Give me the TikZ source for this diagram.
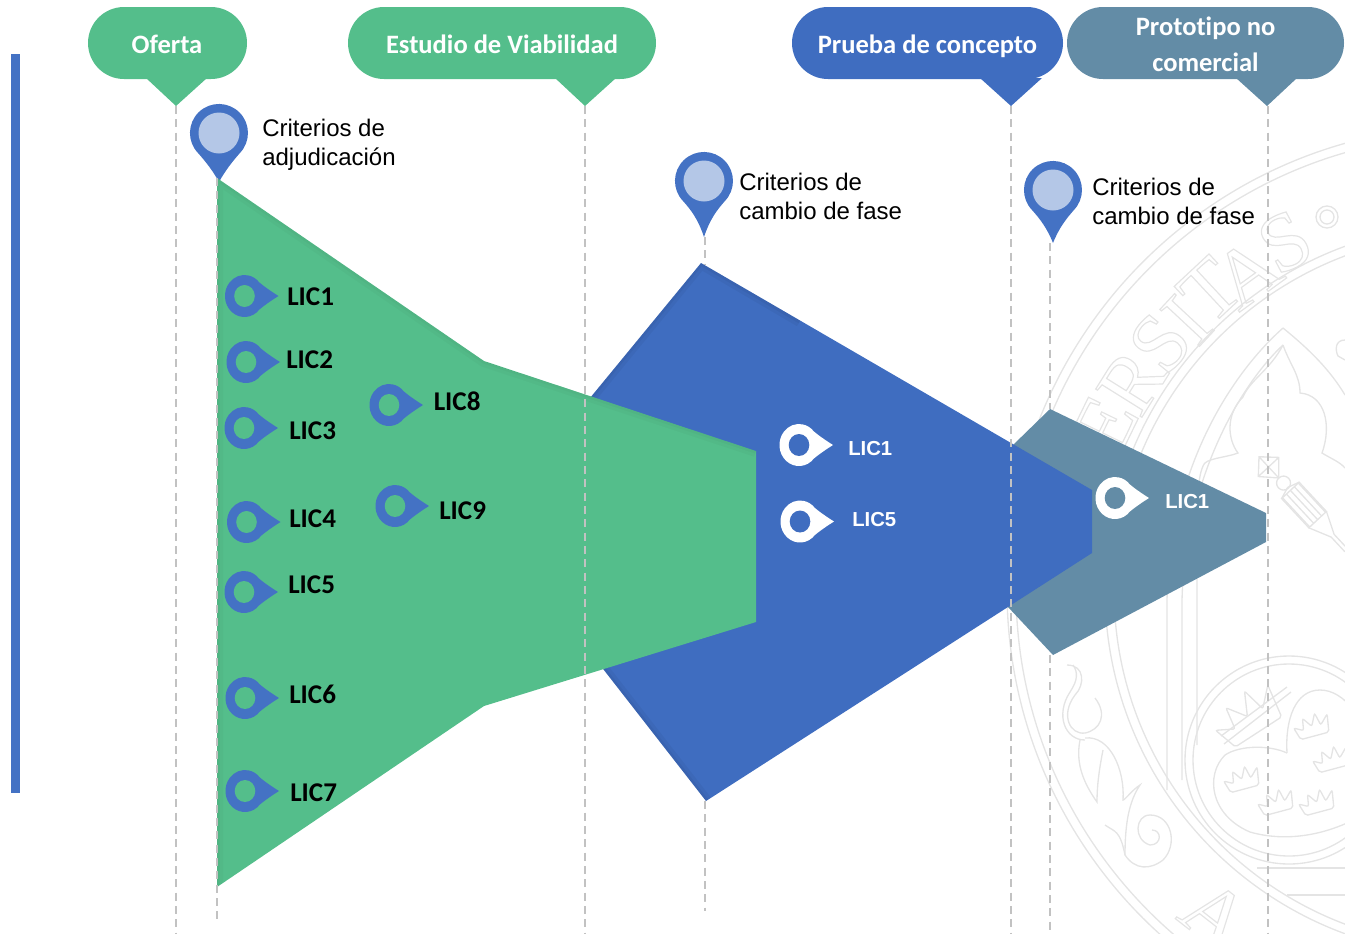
\documentclass[tikz,border=0pt]{standalone}
\usepackage{fontspec}
\setmainfont{Liberation Sans}
\newfontfamily\calfont[Ligatures=NoCommon]{Carlito}
\newfontfamily\serifseal{Liberation Serif}
\definecolor{greenc}{HTML}{54BE8B}
\definecolor{bluec}{HTML}{3F6DC0}
\definecolor{pinb}{HTML}{4472C4}
\definecolor{pinl}{HTML}{B4C7E7}
\definecolor{slatec}{HTML}{638CA6}
\definecolor{dashc}{HTML}{C2C2C2}
\definecolor{sealc}{HTML}{E4E4E4}
\newcommand\sealletter[1]{\special{pdf:code 1 Tr 0.9 w}#1\special{pdf:code 0 Tr}}
\tikzset{
  x=0.75pt,y=-0.75pt,
  guide/.style={draw=dashc,line width=1.25pt,dash pattern=on 6pt off 4pt},
  bubble/.style={rounded corners=27pt,inner sep=0pt,minimum height=54pt},
  bubtext/.style={text=white,font=\calfont\bfseries\fontsize{19.9}{27}\selectfont,inner sep=0pt,anchor=base},
  crit/.style={font=\fontsize{18}{21.75}\selectfont,align=left,anchor=west,inner sep=0pt,text=black},
  licb/.style={font=\calfont\bfseries\fontsize{20.3}{24}\selectfont,anchor=base west,inner sep=0pt,text=black},
  licw/.style={font=\bfseries\fontsize{15.2}{18}\selectfont,anchor=base west,inner sep=0pt,text=white},
  seal/.style={draw=sealc,line width=1pt},
  sealchar/.style={font=\serifseal\fontsize{62}{62}\selectfont,text=sealc,inner sep=0pt},
  pics/bigmark/.style={code={
    \fill[pinb] (-20.9,20.1) arc[start angle=136,end angle=404,radius=29]
      .. controls (13,29) and (6,38) .. (0,#1) .. controls (-6,38) and (-13,29) .. cycle;
    \fill[pinl] (0,0) circle[radius=20.5];}},
  pics/lilmark/.style 2 args={code={
    \fill[#1] (14.9,13.5) arc[start angle=40,end angle=320,x radius=19.5,y radius=21]
      .. controls (19,-10) and (26,-5) .. (34,0) .. controls (26,5) and (19,10) .. cycle;
    \fill[#2] (0,0) ellipse[x radius=10.3,y radius=11];}},
  pics/crown/.style={code={
    \draw[seal,rounded corners=1.5pt] (-15,9) -- (-19,-4) -- (-10,1) -- (-8,-11) -- (-1,-1) -- (5,-13) -- (8,0) -- (17,-9) -- (14,9) -- cycle;}},
}
\begin{document}
\begin{tikzpicture}
\useasboundingbox (0,0) rectangle (1345,933);
% watermark
\begin{scope}
\clip (0,0) rectangle (1345,933);
\foreach \r in {464,455,366,357} \draw[seal] (1471,590) circle[radius=\r];
\draw[seal] (1327,217) circle[radius=11];
\draw[seal] (1327,217) circle[radius=7];
\foreach \px/\py/\a/\c in {1285/242/28/S,1247/273/36/A,1210/290/43/T,1187/320/47/I,1160/343/51/S,1132/382/58/R,1105/425/64/E,1215/915/-38/A}
  \node[sealchar,rotate=\a] (let\px) at (\px,\py) {\sealletter{\c}};
% arch
\draw[seal] (1283,328) .. controls (1230,375) and (1170,470) .. (1167,600) -- (1167,790);
\draw[seal] (1283,345) .. controls (1240,385) and (1185,480) .. (1182,600) -- (1182,780);
\draw[seal] (1283,328) .. controls (1310,350) and (1330,370) .. (1345,395);
% fleur
\draw[seal] (1283,345) .. controls (1270,370) and (1250,380) .. (1243,397) .. controls (1225,415) and (1228,440) .. (1238,453) .. controls (1225,458) and (1205,458) .. (1203,466) .. controls (1197,480) and (1197,500) .. (1197,600) -- (1197,745);
\draw[seal] (1283,345) .. controls (1290,365) and (1300,375) .. (1300,393) .. controls (1325,395) and (1332,425) .. (1322,453) .. controls (1330,458) and (1340,462) .. (1345,468);
\draw[seal] (1345,340) .. controls (1335,340) and (1335,350) .. (1338,356) -- (1345,360);
% pen
\begin{scope}[shift={(1304,505)},rotate=-47]
\draw[seal] (-20,-12) rectangle (20,12);
\foreach \k in {-12,-6,0,6,12} \draw[seal] (-20,\k*.9) -- (20,\k*.9);
\draw[seal] (-20,-12) -- (-24,0) -- (-20,12);
\draw[seal] (20,-12) -- (42,-2) -- (62,-2) (20,12) -- (42,2) -- (62,2);
\draw[seal] (-30,0) circle[radius=7];
\draw[seal] (-37,0) -- (-52,-14) -- (-66,0) -- (-52,14) -- cycle (-52,-14) -- (-52,14) (-66,0) -- (-37,0);
\end{scope}
% shield roundel
\draw[seal] (1289,760) circle[radius=104];
\draw[seal] (1289,760) circle[radius=96];
\draw[seal] (1287,753) .. controls (1285,720) and (1295,690) .. (1320,690) .. controls (1345,690) and (1365,720) .. (1380,760);
\draw[seal] (1287,753) .. controls (1270,745) and (1240,745) .. (1225,755) .. controls (1205,775) and (1210,815) .. (1250,832) .. controls (1285,842) and (1320,835) .. (1347,823);
\pic[rotate=33,scale=1.9] at (1250,717) {crown};
\draw[seal] (1224,744) -- (1291,692) (1221,736) -- (1287,687);
\pic[rotate=15] at (1313,727) {crown};
\pic[rotate=15] at (1332,760) {crown};
\pic[rotate=15] at (1243,780) {crown};
\pic[rotate=15] at (1277,803) {crown};
\pic[rotate=15] at (1318,803) {crown};
% scroll
\draw[seal] (1067,665) .. controls (1085,665) and (1085,685) .. (1075,695) .. controls (1060,715) and (1070,735) .. (1085,733) .. controls (1100,730) and (1108,715) .. (1095,698);
\draw[seal] (1073,665) .. controls (1078,672) and (1078,680) .. (1070,692) .. controls (1055,715) and (1065,740) .. (1085,740);
\draw[seal] (1080,740) .. controls (1075,765) and (1085,785) .. (1097,802) .. controls (1097,790) and (1098,775) .. (1103,750);
\draw[seal] (1085,738) .. controls (1110,735) and (1125,770) .. (1123,800) .. controls (1125,800) and (1132,790) .. (1140,785) .. controls (1130,800) and (1125,820) .. (1125,855);
\draw[seal] (1105,825) .. controls (1115,832) and (1120,830) .. (1125,855) .. controls (1135,870) and (1150,870) .. (1163,860) .. controls (1178,845) and (1172,815) .. (1150,815) .. controls (1135,815) and (1133,840) .. (1150,845) .. controls (1162,845) and (1162,830) .. (1152,830);
% verticals and base strokes
\draw[seal] (1257,868) -- (1345,868) (1287,895) -- (1345,895);
\end{scope}
% band shapes
\coordinate (sA) at (1013,445); \coordinate (sB) at (1050,409); \coordinate (sC) at (1266,513);
\coordinate (sD) at (1266,542); \coordinate (sE) at (1053,655); \coordinate (sF) at (1008,607);
\fill[slatec] (sA) -- (sB) -- (sC) -- (sD) -- (sE) -- (sF) -- cycle;
\coordinate (bA) at (701,263); \coordinate (bZ) at (706,801);
\path[fill=bluec] (590,398) -- (bA) -- (1092,490) -- (1092,553) -- (bZ) -- (600,665) -- cycle;
\begin{scope}
\clip (590,398) -- (bA) -- (1092,490) -- (1092,553) -- (bZ) -- (600,665) -- cycle;
\draw[black,opacity=.04,line width=9pt] (590,398) -- (bA) -- (800,321) (600,665) -- (bZ);
\draw[black,opacity=.04,line width=4pt] (590,398) -- (bA) -- (800,321) (600,665) -- (bZ);
\end{scope}
% first big marker lies beneath the green band
\pic at (219,133) {bigmark=49};
\pic at (704,181) {bigmark=56};
\pic at (1053,190) {bigmark=53};
\coordinate (gA) at (217,178); \coordinate (gZ) at (217,887);
\fill[greenc] (gA) -- (484,361) -- (756,451) -- (756,622) -- (484,706) -- (gZ) -- cycle;
\begin{scope}
\clip (gA) -- (484,361) -- (756,451) -- (756,622) -- (484,706) -- (gZ) -- cycle;
\draw[black,opacity=.025,line width=9pt] (gZ) -- (gA) -- (484,361) -- (756,451);
\draw[black,opacity=.025,line width=4pt] (gZ) -- (gA) -- (484,361) -- (756,451);
\end{scope}
% left bar
\fill[pinb] (11,54) rectangle (20,793);
% bubbles
\node[bubble,fill=greenc,minimum width=119.25pt] (oferta) at (167.5,43) {};
\fill[greenc] (146,78) -- (176,106) -- (207,78) -- cycle;
\node[bubble,fill=greenc,minimum width=231pt] (estudio) at (502,43) {};
\fill[greenc] (555,78) -- (585,106) -- (616,78) -- cycle;
\node[bubble,fill=bluec,minimum width=203.25pt] (prueba) at (927.5,43) {};
\fill[bluec] (980,78) -- (1011,106) -- (1042,78) -- cycle;
\node[bubble,fill=slatec,minimum width=207.75pt] (proto) at (1205.5,43) {};
\fill[slatec] (1236,78) -- (1267,106) -- (1297,78) -- cycle;
\node[bubtext] (tOferta) at (167,53) {Oferta};
\node[bubtext] (tEstudio) at (502,53) {Estudio de Viabilidad};
\node[bubtext] (tPrueba) at (927.5,53) {Prueba de concepto};
\node[bubtext] (tProtoA) at (1205.5,35) {Prototipo no};
\node[bubtext] (tProtoB) at (1205.5,71) {comercial};
% guides
\coordinate (t1) at (176,106); \coordinate (b1) at (176,933);
\coordinate (t2) at (585,106); \coordinate (b2) at (585,933);
\coordinate (t3) at (1011,106); \coordinate (b3) at (1011,933);
\coordinate (t4) at (1268,106); \coordinate (b4) at (1268,933);
\coordinate (g0) at (217,922);
\draw[guide] (t1) -- (b1);
\draw[guide] (t2) -- (b2);
\draw[guide] (t3) -- (b3);
\draw[guide] (t4) -- (b4);
\draw[guide] (gA) -- (g0);
\coordinate (m2) at (705,237); \coordinate (m2b) at (705,264); \coordinate (m2c) at (705,801); \coordinate (m2d) at (705,911);
\draw[guide] (m2) -- (m2b);
\draw[guide] (m2c) -- (m2d);
\coordinate (m3) at (1050,243); \coordinate (m3c) at (1050,655); \coordinate (m3d) at (1050,933);
\draw[guide] (m3) -- (sB);
\draw[guide] (m3c) -- (m3d);
% criteria
\node[crit] (c1) at (262,144.5) {Criterios de\\adjudicación};
\node[crit] (c2) at (739,196.5) {Criterios de\\cambio de fase};
\node[crit] (c3) at (1092,201.5) {Criterios de\\cambio de fase};
% small markers
\pic at (244.5,296) {lilmark={pinb}{greenc}};
\pic at (246,362) {lilmark={pinb}{greenc}};
\pic at (244,428) {lilmark={pinb}{greenc}};
\pic at (246.5,522) {lilmark={pinb}{greenc}};
\pic at (244,592) {lilmark={pinb}{greenc}};
\pic at (245,698) {lilmark={pinb}{greenc}};
\pic at (245,791) {lilmark={pinb}{greenc}};
\pic at (389,405) {lilmark={pinb}{greenc}};
\pic at (395,506) {lilmark={pinb}{greenc}};
\pic at (799,445) {lilmark={white}{bluec}};
\pic at (800,521.5) {lilmark={white}{bluec}};
\pic at (1115,498) {lilmark={white}{slatec}};
\node[licb] (l1) at (287,305.5) {LIC1};
\node[licb] (l2) at (286,368) {LIC2};
\node[licb] (l3) at (289,439) {LIC3};
\node[licb] (l4) at (289,527) {LIC4};
\node[licb] (l5) at (288,593) {LIC5};
\node[licb] (l6) at (289,703) {LIC6};
\node[licb] (l7) at (290,801) {LIC7};
\node[licb] (l8) at (433.5,410) {LIC8};
\node[licb] (l9) at (439,519) {LIC9};
\node[licw] (w1) at (848,455) {LIC1};
\node[licw] (w2) at (852,526) {LIC5};
\node[licw] (w3) at (1165,508) {LIC1};
\end{tikzpicture}
\end{document}
